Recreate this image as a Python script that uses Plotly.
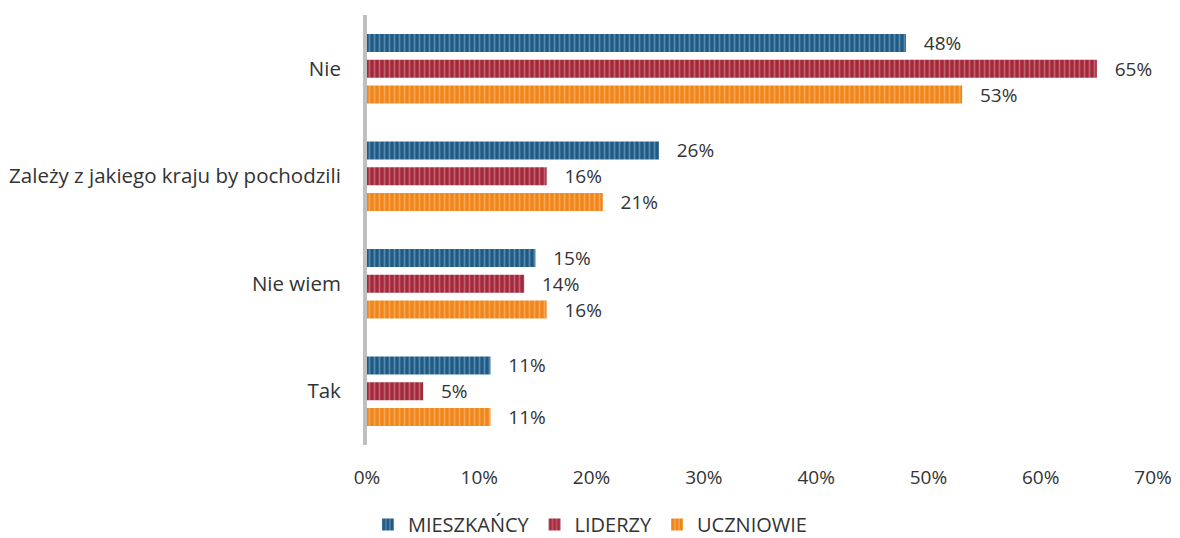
import plotly.graph_objects as go

categories = ["Nie", "Zależy z jakiego kraju by pochodzili", "Nie wiem", "Tak"]
series_names = ["MIESZKAŃCY", "LIDERZY", "UCZNIOWIE"]
mieszkancy = [48, 26, 15, 11]
liderzy = [65, 16, 14, 5]
uczniowie = [53, 21, 16, 11]
x_ticks = [0, 10, 20, 30, 40, 50, 60, 70]

colors = [("#1F5A85", "#8FB8D6"), ("#A3283A", "#E0A0AA"), ("#F08519", "#FBC78E")]
FONT = "Open Sans"
TXT = "#333333"

fig = go.Figure()
for name, vals, (bg, fg) in zip(series_names, [mieszkancy, liderzy, uczniowie], colors):
    fig.add_trace(go.Bar(
        name=name,
        y=categories,
        x=vals,
        orientation="h",
        marker=dict(color=bg, line=dict(width=0),
                    pattern=dict(shape="|", fgcolor=fg, bgcolor=bg, size=5, solidity=0.35, fillmode="overlay")),
        text=[f"   {v}%" for v in vals],
        textposition="outside",
        constraintext="none",
        textfont=dict(family=FONT, size=19, color=TXT),
        cliponaxis=False,
    ))

# the page body adds an 8px offset, so margins are shifted by 8px
fig.update_layout(
    width=1180, height=538,
    paper_bgcolor="white", plot_bgcolor="white",
    margin=dict(l=359, r=35, t=7, b=101, autoexpand=False),
    barmode="group", bargap=0.28, bargroupgap=0.3,
    font=dict(family=FONT, size=19, color=TXT),
    xaxis=dict(range=[0, 70], tickvals=x_ticks, ticktext=[f"{v}%" for v in x_ticks],
               showgrid=False, zeroline=False, showline=False,
               tickfont=dict(size=19, color=TXT),
               ticks="outside", ticklen=15, tickcolor="rgba(0,0,0,0)"),
    yaxis=dict(autorange="reversed", showgrid=False, zeroline=False, showline=True,
               linecolor="#BFBFBF", linewidth=4, ticks="outside", ticklen=18,
               tickcolor="rgba(0,0,0,0)", tickfont=dict(size=20.5, color=TXT)),
    legend=dict(orientation="h", xref="container", yref="container", x=0.305, xanchor="left",
                y=0.04, yanchor="middle", font=dict(size=20, color=TXT),
                traceorder="normal", itemwidth=30),
    showlegend=True,
)

fig.write_html("out.html")
